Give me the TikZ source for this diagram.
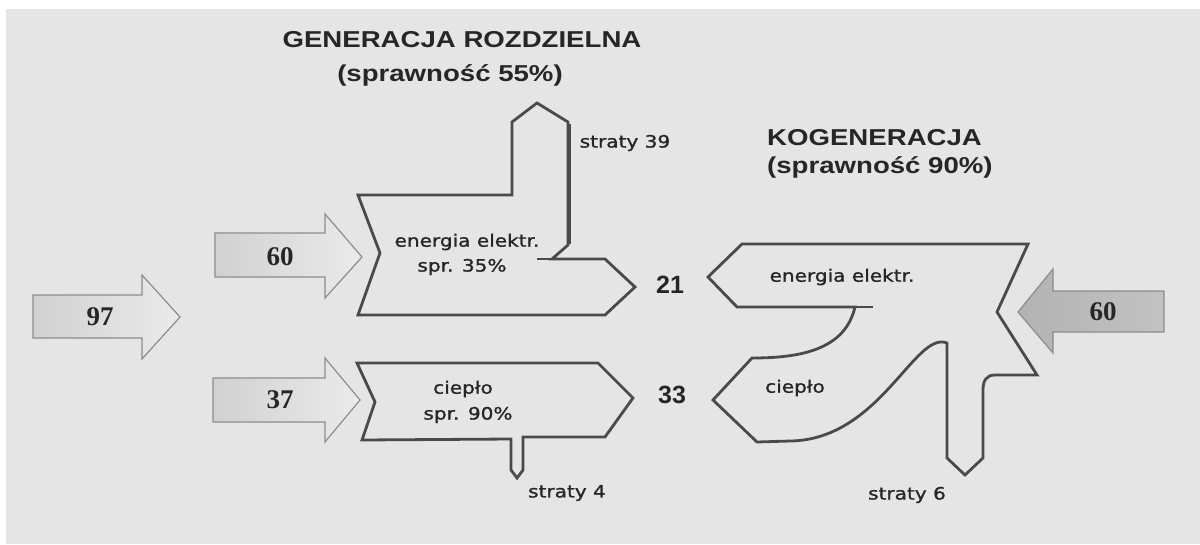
\documentclass[tikz,border=0pt]{standalone}
\usepackage{fontspec}
\newfontfamily\titlefont[FakeStretch=1.2]{Liberation Sans}
\newfontfamily\labfont[FakeStretch=1.18,FakeBold=1.2]{DejaVu Sans}
\newfontfamily\numfont{Liberation Serif}
\newfontfamily\bignumfont{Liberation Sans}
\definecolor{bg}{HTML}{E5E5E5}
\definecolor{ink}{HTML}{262626}
\definecolor{outl}{HTML}{4A4A4A}
\definecolor{arrowline}{HTML}{8C8C8C}
\tikzset{
  flow/.style={draw=outl, line width=2.8pt, line join=miter},
  inarrow/.style={draw=arrowline, line width=1.2pt, left color=black!18, right color=black!8},
  darkarrow/.style={draw=arrowline, line width=1.2pt, left color=black!30, right color=black!24},
  title/.style={text=ink, font=\titlefont\bfseries\fontsize{23}{27}\selectfont, inner sep=0pt},
  lab/.style={text=ink, font=\labfont\fontsize{17}{20}\selectfont, inner sep=0pt},
  arrnum/.style={text=ink, font=\numfont\bfseries\fontsize{27}{30}\selectfont, inner sep=0pt},
  bignum/.style={text=ink, font=\bignumfont\bfseries\fontsize{25}{28}\selectfont, inner sep=0pt}
}
\begin{document}
\begin{tikzpicture}[x=1pt,y=-1pt]
\useasboundingbox (0,0) rectangle (1200,544);
\fill[white] (0,0) rectangle (1200,544);
\fill[bg] (6,9) rectangle (1200,544);

% input arrows
\path[inarrow] (33,295) -- (142,295) -- (142,275) -- (180,317) -- (142,359) -- (142,338) -- (33,338) -- cycle;
\path[inarrow] (215,233) -- (325,233) -- (325,214) -- (362,257) -- (325,298) -- (325,277) -- (215,277) -- cycle;
\path[inarrow] (213,378) -- (325,378) -- (325,358) -- (360,400) -- (325,442) -- (325,422) -- (213,422) -- cycle;
\path[darkarrow] (1018,312) -- (1053,269) -- (1053,291) -- (1164,291) -- (1164,332) -- (1053,332) -- (1053,353) -- cycle;

\node[arrnum] (n97) at (100,317) {97};
\node[arrnum] (n60a) at (280,257) {60};
\node[arrnum] (n37) at (280,400) {37};
\node[arrnum] (n60b) at (1103,312) {60};

% separate generation: electricity
\draw[flow] (358,195) -- (512,195) -- (512,122) -- (537,103) -- (568,122) -- (568,245) -- (552,259)
  -- (605,259) -- (635,287) -- (605,315) -- (358,315) -- (380,253) -- cycle;
\draw[flow] (537,259) -- (552,259);
\draw[outl, line width=2pt] (569.5,124) -- (569.5,244);

% separate generation: heat
\draw[flow] (357,363) -- (598,363) -- (633,398) -- (605,437) -- (523,437) -- (523,470) -- (517,478)
  -- (511,470) -- (511,439) -- (362,440) -- (375,402) -- cycle;

% cogeneration
\draw[flow] (742,244) -- (1028,244) -- (997,312) -- (1037,375) -- (995,375)
  .. controls (986,375) and (983,381) .. (983,390) -- (983,458) -- (965,475) -- (947,458) -- (947,343)
  .. controls (915,330) and (880,440) .. (790,441) -- (757,442) -- (713,400) -- (752,358)
  .. controls (800,358) and (845,350) .. (855,307) -- (737,307) -- (708,277) -- cycle;
\draw[flow] (855,307) -- (873,307);

% titles
\node[title] (t1) at (462,40) {GENERACJA ROZDZIELNA};
\node[title] (t1b) at (450,75) {(sprawność 55\%)};
\node[title, anchor=west] (t2) at (767,138) {KOGENERACJA};
\node[title, anchor=west] (t2b) at (767,167) {(sprawność 90\%)};

% labels
\node[lab] (s39) at (625,143) {straty 39};
\node[lab] (ee1) at (467,242) {energia elektr.};
\node[lab] (sp35) at (462,267) {spr. 35\%};
\node[lab] (cp1) at (463,389) {ciepło};
\node[lab] (sp90) at (468,415) {spr. 90\%};
\node[lab] (s4) at (567,493) {straty 4};
\node[lab] (ee2) at (842,277) {energia elektr.};
\node[lab] (cp2) at (795,388) {ciepło};
\node[lab] (s6) at (907,495) {straty 6};

\node[bignum] (n21) at (670,285) {21};
\node[bignum] (n33) at (672,395) {33};
\end{tikzpicture}
\end{document}
